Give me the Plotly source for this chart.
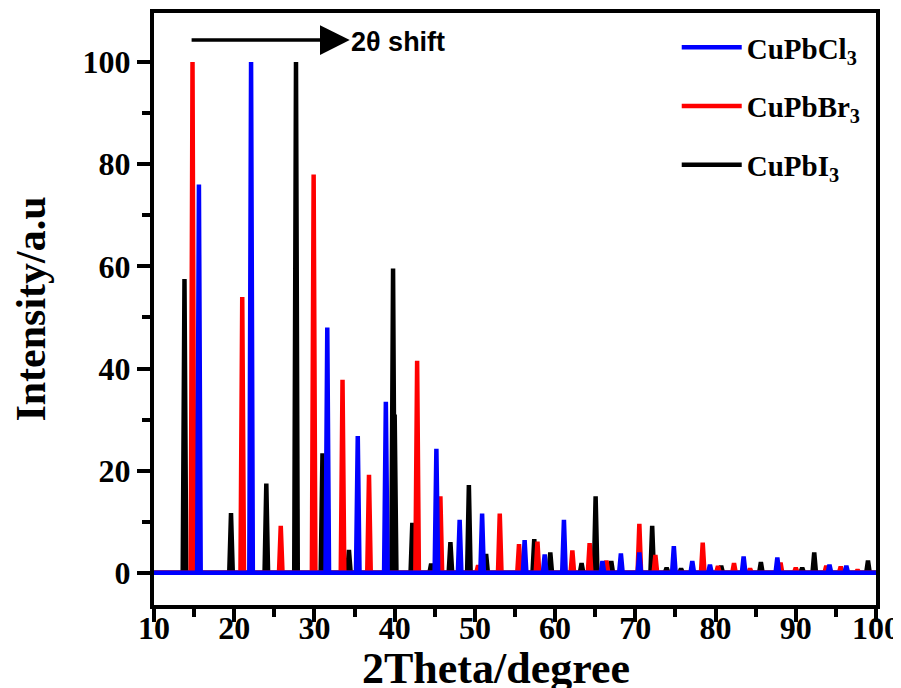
import plotly.graph_objects as go

# Peak positions (2θ, degree) and relative intensities
cl_pos = [15.6, 22.1, 31.6, 35.4, 38.9, 45.2, 48.1, 50.9, 56.2, 58.7, 61.1, 65.9, 68.2,
          70.5, 74.8, 77.1, 79.3, 83.5, 87.7, 94.2, 96.3]
cl_int = [76, 100, 48, 26.8, 33.5, 24.3, 10.4, 11.6, 6.4, 3.6, 10.4, 2.3, 3.8,
          4.0, 5.2, 2.3, 1.6, 3.2, 3.0, 1.6, 1.4]

br_pos = [14.8, 21.0, 25.8, 29.9, 33.5, 36.8, 42.8, 45.7, 50.4, 53.1, 55.5, 57.8, 62.15,
          64.3, 66.4, 70.5, 72.5, 78.4, 80.3, 82.3, 84.3, 88.1, 90.0, 93.8, 95.6, 97.7]
br_int = [100, 54, 9.2, 78, 37.8, 19.2, 41.5, 15, 1.5, 11.6, 5.6, 6.1, 4.4,
          5.8, 2.4, 9.6, 3.5, 5.9, 1.3, 1.9, 0.8, 2.0, 1.0, 1.4, 1.2, 0.6]

i_pos = [13.8, 19.6, 24.0, 27.7, 31.0, 34.3, 39.8, 40.0, 42.2, 44.55, 46.95, 49.25, 51.4,
         57.4, 59.4, 63.3, 65.05, 67.0, 72.1, 73.9, 75.7, 80.7, 85.65, 90.8, 92.3, 99.0]
i_int = [57.5, 11.7, 17.5, 100, 23.4, 4.5, 59.6, 31, 9.8, 1.8, 6.0, 17.2, 3.7,
         6.6, 4.0, 1.9, 15.0, 2.3, 9.2, 1.0, 0.8, 1.4, 2.1, 1.0, 4.0, 2.4]

x_start, x_end = 10, 100
HALF = 0.22  # drawn half-width of each peak (style only)

FONT = "Liberation Serif"


def profile(pos, inten):
    xs, ys = [x_start], [0]
    for p, h in sorted(zip(pos, inten)):
        xs += [p - HALF, p, p + HALF]
        ys += [0, h, 0]
    xs.append(x_end)
    ys.append(0)
    return xs, ys


fig = go.Figure()
series = [
    ("<b>CuPbI<sub>3</sub></b>", i_pos, i_int, "#000000", 3),
    ("<b>CuPbBr<sub>3</sub></b>", br_pos, br_int, "#ff0000", 2),
    ("<b>CuPbCl<sub>3</sub></b>", cl_pos, cl_int, "#0000ff", 1),
]
for name, pos, inten, color, rank in series:
    xs, ys = profile(pos, inten)
    fig.add_trace(go.Scatter(
        x=xs, y=ys, mode="lines", name=name, legendrank=rank,
        legendgroup=name,
        line=dict(color=color, width=4.5),
    ))

axis_common = dict(
    showline=True, linecolor="black", linewidth=4, mirror=True,
    ticks="outside", ticklen=13, tickwidth=4, tickcolor="black",
    showgrid=False, zeroline=False, automargin=False,
    tickfont=dict(family=FONT, size=32, color="black", weight="bold"),
)

fig.update_xaxes(
    range=[10, 100], dtick=10, tick0=10,
    minor=dict(dtick=5, tick0=5, ticks="outside", ticklen=8, tickwidth=4, tickcolor="black"),
    ticklabelstandoff=-21,
    **axis_common,
)
fig.update_yaxes(
    range=[-6.3, 109.6], dtick=20, tick0=0,
    minor=dict(dtick=10, tick0=0, ticks="outside", ticklen=8, tickwidth=4, tickcolor="black"),
    title=dict(text="Intensity/a.u", font=dict(family=FONT, size=42, color="black", weight="bold"),
               standoff=30),
    **axis_common,
)

# x-axis title (placed to match the reference position)
fig.add_annotation(
    x=0.474, y=-0.108, xref="paper", yref="paper", xanchor="center", yanchor="middle",
    text="<b>2Theta/degree</b>", showarrow=False,
    font=dict(family=FONT, size=44, color="black"),
)

# shift arrow + label
fig.add_annotation(
    x=34.4, y=104.3, ax=14.5, ay=104.3, xref="x", yref="y", axref="x", ayref="y",
    text="", showarrow=True, arrowhead=2, arrowsize=1.7, arrowwidth=3.5, arrowcolor="black",
)
fig.add_annotation(
    x=34.3, y=104.0, xref="x", yref="y", xanchor="left", yanchor="middle",
    text="<b>2θ shift</b>", showarrow=False,
    font=dict(family="Liberation Sans", size=27, color="black"),
)

# the page body adds an 8px offset; margins are set so the plot box lands at
# x 154..876 and y 13..605 in the 901x688 window
fig.update_layout(
    width=893, height=680,
    margin=dict(l=146, r=25, t=5, b=83),
    plot_bgcolor="white", paper_bgcolor="white",
    showlegend=True,
    legend=dict(
        x=0.724, y=0.985, xanchor="left", yanchor="top",
        bgcolor="rgba(0,0,0,0)", borderwidth=0,
        traceorder="grouped", tracegroupgap=18,
        font=dict(family=FONT, size=29, color="black"),
        itemwidth=60,
    ),
)

fig.write_html("out.html")
